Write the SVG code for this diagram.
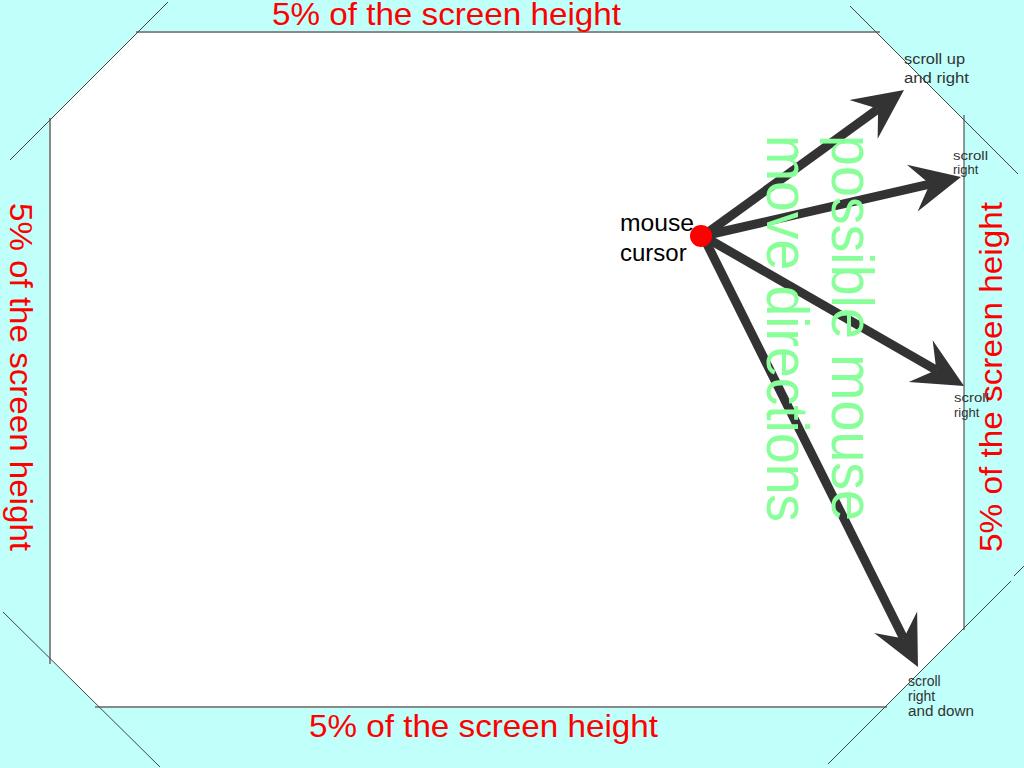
<svg xmlns="http://www.w3.org/2000/svg" width="1024" height="768" viewBox="0 0 1024 768">
  <style>
    .red { font-family: "Liberation Sans", Arial, sans-serif; font-size: 32px; fill: #ff0000; }
    .green { font-family: "Liberation Sans", Arial, sans-serif; font-size: 60px; fill: #88ff99; }
    .lbl { font-family: "Liberation Sans", Arial, sans-serif; font-size: 14px; fill: #333333; }
    .cur { font-family: "Liberation Sans", Arial, sans-serif; font-size: 24px; fill: #000000; }
    .edge { stroke: #8a8a8a; stroke-width: 2; fill: none; }
    .diag { stroke: #444444; stroke-width: 1; fill: none; }
    .arrow { stroke: #333333; stroke-width: 9; fill: none; marker-end: url(#head); }
  </style>
  <defs>
    <marker id="head" markerUnits="userSpaceOnUse" markerWidth="60" markerHeight="60" viewBox="-5 -30 60 60" refX="18" refY="0" orient="auto" overflow="visible">
      <path d="M50,0 L0,-24 L18,0 L0,24 Z" fill="#333333"/>
    </marker>
  </defs>

  <g id="background">
    <rect x="0" y="0" width="1024" height="768" fill="#c0fffa"/>
    <polygon points="138,32 876,32 964,120 964,628 885,707 99,707 50,658 50,120" fill="#ffffff"/>
  </g>

  <g id="screen-edges">
    <line class="edge" x1="136" y1="32" x2="880" y2="32"/>
    <line class="edge" x1="50" y1="118" x2="50" y2="664"/>
    <line class="edge" x1="95" y1="707" x2="887" y2="707"/>
    <line x1="964" y1="115" x2="964" y2="630" stroke="#333333" stroke-width="1"/>
  </g>

  <g id="diagonals">
    <line class="diag" x1="168" y1="2" x2="10" y2="160"/>
    <line class="diag" x1="850" y1="6" x2="1018" y2="174"/>
    <line class="diag" x1="1011" y1="581" x2="828" y2="764"/>
    <line class="diag" x1="1014" y1="576" x2="1024" y2="566"/>
    <line class="diag" x1="3" y1="612" x2="160" y2="767"/>
  </g>

  <g id="margin-labels">
    <text class="red" x="272" y="25" textLength="349" lengthAdjust="spacingAndGlyphs">5% of the screen height</text>
    <text class="red" x="309" y="737" textLength="349" lengthAdjust="spacingAndGlyphs">5% of the screen height</text>
    <text class="red" transform="translate(10,203) rotate(90)" textLength="348" lengthAdjust="spacingAndGlyphs">5% of the screen height</text>
    <text class="red" transform="translate(1002,552) rotate(-90)" textLength="350" lengthAdjust="spacingAndGlyphs">5% of the screen height</text>
  </g>

  <g id="connectors">
    <line class="arrow" x1="703" y1="236" x2="878.1" y2="108.8"/>
    <line class="arrow" x1="703" y1="236" x2="929.8" y2="184.1"/>
    <line class="arrow" x1="703" y1="236" x2="936.3" y2="370.1"/>
    <line class="arrow" x1="703" y1="236" x2="903.7" y2="638.4"/>
  </g>

  <g id="mouse-cursor">
    <circle cx="701" cy="236" r="11" fill="#ff0000"/>
    <text class="cur" x="620" y="231" textLength="74" lengthAdjust="spacingAndGlyphs">mouse</text>
    <text class="cur" x="620" y="261">cursor</text>
  </g>

  <g id="directions-label">
    <text class="green" transform="translate(832,135) rotate(90)" textLength="386" lengthAdjust="spacingAndGlyphs">possible mouse</text>
    <text class="green" transform="translate(767,135) rotate(90)" textLength="387" lengthAdjust="spacingAndGlyphs">move directions</text>
  </g>

  <g id="label-up-right">
    <text class="lbl" x="904" y="64" textLength="61" lengthAdjust="spacingAndGlyphs">scroll up</text>
    <text class="lbl" x="904" y="83" textLength="65" lengthAdjust="spacingAndGlyphs">and right</text>
  </g>
  <g id="label-right-1">
    <text class="lbl" x="953" y="160" style="font-size:13px" textLength="35" lengthAdjust="spacingAndGlyphs">scroll</text>
    <text class="lbl" x="953" y="174" style="font-size:13px">right</text>
  </g>
  <g id="label-right-2">
    <text class="lbl" x="954" y="402" style="font-size:13px" textLength="35" lengthAdjust="spacingAndGlyphs">scroll</text>
    <text class="lbl" x="954" y="417" style="font-size:13px">right</text>
  </g>
  <g id="label-right-down">
    <text class="lbl" x="908" y="686">scroll</text>
    <text class="lbl" x="908" y="701">right</text>
    <text class="lbl" x="908" y="716" textLength="66" lengthAdjust="spacingAndGlyphs">and down</text>
  </g>
</svg>
